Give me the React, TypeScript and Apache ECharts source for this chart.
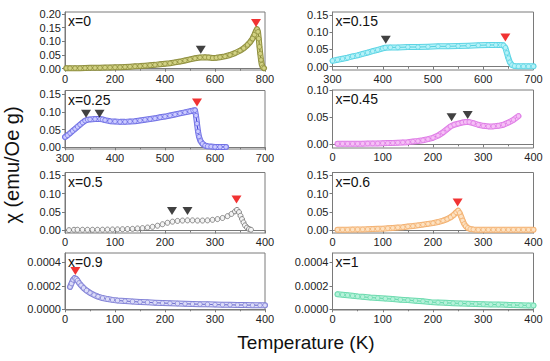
import React, { useEffect, useRef } from "react";
import * as echarts from "echarts";

// ---------- DATA ----------
const panelLabels = ["x=0", "x=0.15", "x=0.25", "x=0.45", "x=0.5", "x=0.6", "x=0.9", "x=1"];

const xTicks = {
  p0: { min: 0, max: 800, step: 200 },
  p1: { min: 300, max: 700, step: 100 },
  p2: { min: 300, max: 700, step: 100 },
  p3: { min: 0, max: 400, step: 100 },
  p4: { min: 0, max: 400, step: 100 },
  p5: { min: 0, max: 400, step: 100 },
  p6: { min: 0, max: 400, step: 100 },
  p7: { min: 0, max: 400, step: 100 },
};

const yTicksA = [0, 0.05, 0.1, 0.15, 0.2];
const yTicksB = [0, 0.05, 0.1, 0.15];
const yTicksC = [0, 0.05, 0.1];
const yTicksD = [0, 0.0002, 0.0004];

const chiX0: [number, number][] = [
  [5, 0.002], [20, 0.002], [40, 0.002], [60, 0.002], [80, 0.0025], [100, 0.003], [120, 0.003],
  [140, 0.0035], [160, 0.004], [180, 0.0045], [200, 0.005], [220, 0.0055], [240, 0.0065],
  [260, 0.0075], [280, 0.0085], [300, 0.0095], [320, 0.011], [340, 0.0125], [360, 0.014],
  [380, 0.016], [400, 0.018], [420, 0.02], [440, 0.023], [460, 0.026], [480, 0.03], [500, 0.034],
  [520, 0.038], [540, 0.041], [560, 0.042], [575, 0.041], [590, 0.039], [605, 0.04], [620, 0.042],
  [640, 0.045], [660, 0.05], [680, 0.057], [700, 0.066], [715, 0.075], [730, 0.087], [740, 0.097],
  [750, 0.11], [758, 0.125], [764, 0.138], [768, 0.145], [772, 0.135], [775, 0.11], [778, 0.08],
  [781, 0.055], [784, 0.032], [787, 0.015], [791, 0.005], [796, 0.002],
];

const chiX015: [number, number][] = [
  [300, 0.017], [310, 0.02], [320, 0.023], [330, 0.026], [340, 0.03], [350, 0.033], [360, 0.037],
  [370, 0.041], [380, 0.045], [390, 0.049], [400, 0.053], [405, 0.055], [415, 0.056], [430, 0.056],
  [450, 0.057], [470, 0.057], [490, 0.058], [510, 0.059], [530, 0.059], [550, 0.06], [570, 0.061],
  [590, 0.062], [610, 0.063], [625, 0.063], [635, 0.063], [640, 0.062], [644, 0.055], [647, 0.04],
  [650, 0.025], [653, 0.013], [657, 0.005], [662, 0.002], [670, 0.001], [680, 0.001], [690, 0.001],
  [700, 0.001],
];

const chiX025: [number, number][] = [
  [300, 0.029], [305, 0.034], [310, 0.04], [315, 0.046], [320, 0.052], [325, 0.058], [330, 0.064],
  [335, 0.07], [340, 0.075], [345, 0.078], [350, 0.079], [360, 0.08], [370, 0.08], [375, 0.079],
  [380, 0.077], [390, 0.074], [400, 0.073], [410, 0.072], [420, 0.072], [430, 0.073], [440, 0.074],
  [450, 0.076], [460, 0.078], [470, 0.08], [480, 0.082], [490, 0.085], [500, 0.087], [510, 0.09],
  [520, 0.093], [530, 0.096], [540, 0.099], [550, 0.102], [556, 0.104], [560, 0.105], [562, 0.09],
  [564, 0.067], [566, 0.045], [568, 0.03], [571, 0.018], [575, 0.01], [580, 0.005], [585, 0.003],
  [592, 0.002], [600, 0.001], [610, 0.001], [622, 0.001],
];

const chiX045: [number, number][] = [
  [10, 0.001], [20, 0.001], [30, 0.001], [40, 0.001], [50, 0.001], [60, 0.0012], [70, 0.0013],
  [80, 0.0015], [90, 0.0017], [100, 0.002], [110, 0.0022], [120, 0.0025], [130, 0.003],
  [140, 0.0035], [150, 0.004], [160, 0.005], [170, 0.006], [180, 0.0075], [190, 0.0095],
  [200, 0.012], [210, 0.016], [220, 0.022], [228, 0.028], [235, 0.033], [242, 0.036], [250, 0.038],
  [258, 0.04], [265, 0.041], [272, 0.041], [280, 0.039], [290, 0.036], [300, 0.034], [310, 0.033],
  [320, 0.033], [330, 0.034], [340, 0.036], [350, 0.04], [360, 0.045], [370, 0.052],
];

const chiX05: [number, number][] = [
  [8, 0.001], [18, 0.002], [25, 0.002], [35, 0.002], [45, 0.002], [55, 0.002], [65, 0.002],
  [75, 0.0022], [85, 0.0025], [95, 0.0028], [105, 0.003], [115, 0.0035], [125, 0.004],
  [135, 0.0045], [145, 0.0055], [155, 0.0065], [165, 0.008], [175, 0.01], [185, 0.013],
  [195, 0.017], [205, 0.021], [215, 0.024], [225, 0.026], [235, 0.027], [245, 0.0275],
  [255, 0.0275], [265, 0.027], [275, 0.027], [285, 0.0275], [295, 0.029], [305, 0.031],
  [315, 0.034], [325, 0.039], [333, 0.045], [340, 0.052], [344, 0.056], [348, 0.05], [351, 0.04],
  [354, 0.031], [357, 0.022], [360, 0.014], [364, 0.008], [368, 0.004], [372, 0.002],
];

const chiX06: [number, number][] = [
  [10, 0.002], [20, 0.002], [30, 0.002], [40, 0.0025], [50, 0.003], [60, 0.003], [70, 0.0035],
  [80, 0.004], [90, 0.0045], [100, 0.005], [110, 0.006], [120, 0.007], [130, 0.008], [140, 0.009],
  [150, 0.011], [160, 0.012], [170, 0.014], [180, 0.016], [190, 0.018], [200, 0.02], [210, 0.023],
  [220, 0.027], [228, 0.031], [235, 0.036], [241, 0.042], [246, 0.049], [250, 0.054], [253, 0.048],
  [256, 0.038], [259, 0.027], [262, 0.018], [265, 0.012], [269, 0.007], [274, 0.004], [280, 0.003],
  [290, 0.002], [300, 0.002], [310, 0.002], [320, 0.002], [330, 0.002], [340, 0.002], [350, 0.002],
  [360, 0.002], [370, 0.002], [380, 0.002], [390, 0.002], [400, 0.002],
];

const chiX09: [number, number][] = [
  [10, 0.00019], [13, 0.00022], [16, 0.00025], [19, 0.000265], [22, 0.00026], [25, 0.000245],
  [28, 0.000225], [32, 0.000205], [37, 0.000182], [43, 0.00016], [50, 0.00014], [58, 0.000122],
  [66, 0.000108], [75, 0.000096], [85, 0.000087], [95, 0.00008], [105, 0.000075], [120, 0.00007],
  [135, 0.000066], [150, 0.000062], [165, 0.000059], [180, 0.000056], [195, 0.000053],
  [210, 0.000051], [225, 0.000049], [240, 0.000047], [255, 0.000045], [270, 0.000043],
  [285, 0.000042], [300, 0.00004], [315, 0.000039], [330, 0.000038], [345, 0.000037],
  [360, 0.000036], [375, 0.000035], [390, 0.000034], [400, 0.000034],
];

const chiX1: [number, number][] = [
  [10, 0.000128], [20, 0.000124], [30, 0.00012], [40, 0.000115], [50, 0.00011], [60, 0.000106],
  [75, 0.0001], [90, 0.000096], [105, 0.000091], [120, 0.000087], [135, 0.000082], [150, 0.000078],
  [165, 0.000073], [180, 0.000068], [195, 0.000061], [210, 0.000058], [225, 0.000055],
  [240, 0.000052], [255, 0.00005], [270, 0.000048], [285, 0.000045], [300, 0.000043],
  [315, 0.000041], [330, 0.00004], [345, 0.000038], [360, 0.000036], [375, 0.000034],
  [390, 0.000033], [400, 0.000032],
];

// transition markers (black = secondary, red = main)
const blackMarks: [number, number][][] = [
  [[543, 0.069]],
  [[406, 0.078]],
  [[342, 0.095], [369, 0.095]],
  [[237, 0.05], [269, 0.054]],
  [[214, 0.053], [245, 0.053]],
  [],
  [],
  [],
];
const redMarks: [number, number][][] = [
  [[764, 0.167]],
  [[644, 0.085]],
  [[564, 0.127]],
  [],
  [[343, 0.084]],
  [[249, 0.076]],
  [[20.7, 0.000326]],
  [],
];

// ---------- LAYOUT / STYLE ----------
const FONT = '"Liberation Sans", Arial, Helvetica, sans-serif';
const COLS = [
  { left: 65, width: 200 },
  { left: 332.5, width: 201 },
];
const ROWS = [
  [{ top: 12, bottom: 70 }, { top: 12, bottom: 70 }],
  [{ top: 90.5, bottom: 149 }, { top: 90, bottom: 148 }],
  [{ top: 172.5, bottom: 233 }, { top: 172.5, bottom: 233 }],
  [{ top: 253, bottom: 310 }, { top: 253, bottom: 310 }],
];
const yExtents: [number, number][] = [
  [-0.0048, 0.2073],
  [-0.0096, 0.1587],
  [-0.0048, 0.1608],
  [-0.0068, 0.1],
  [-0.0068, 0.1576],
  [-0.0068, 0.1576],
  [-0.000006, 0.000479],
  [-0.000006, 0.000479],
];
const styles = [
  { fill: "#d2d284", edge: "#8e8e3e", line: "#6b6b20", band: true },
  { fill: "#b6f2f8", edge: "#5cd4e4", line: "#40c8d8", band: true },
  { fill: "#ccccff", edge: "#7070e4", line: "#1a1acc", band: true },
  { fill: "#f6c0f6", edge: "#de7ce6", line: "#d050d8", band: true },
  { fill: "#f4f4f4", edge: "#707070", line: "#505050", band: false },
  { fill: "#fde2c2", edge: "#f2b070", line: "#f0a050", band: true },
  { fill: "#dcdcf8", edge: "#8080d6", line: "#5050c0", band: true },
  { fill: "#b6f2da", edge: "#6cdaae", line: "#50d0a0", band: true },
];

const seriesData = [chiX0, chiX015, chiX025, chiX045, chiX05, chiX06, chiX09, chiX1];
const xRanges = [xTicks.p0, xTicks.p1, xTicks.p2, xTicks.p3, xTicks.p4, xTicks.p5, xTicks.p6, xTicks.p7];
const yTickSets = [yTicksA, yTicksB, yTicksB, yTicksC, yTicksB, yTicksB, yTicksD, yTicksD];

export default function App() {
  const ref = useRef<HTMLDivElement>(null);
  useEffect(() => {
    document.body.style.margin = "0";
    if (!ref.current) return;
    const chart = echarts.init(ref.current, undefined, { renderer: "svg" });
    const axisColor = "#7a7a7a";
    const grids: any[] = [];
    const xAxes: any[] = [];
    const yAxes: any[] = [];
    const series: any[] = [];
    const graphics: any[] = [];
    for (let i = 0; i < 8; i++) {
      const col = COLS[i % 2];
      const row = ROWS[Math.floor(i / 2)][i % 2];
      grids.push({
        left: col.left,
        width: col.width,
        top: row.top,
        height: row.bottom - row.top,
        show: true,
        borderColor: axisColor,
        borderWidth: 1,
        backgroundColor: "transparent",
        containLabel: false,
      });
      const xr = xRanges[i];
      xAxes.push({
        type: "value",
        gridIndex: i,
        min: xr.min,
        max: xr.max,
        interval: xr.step,
        axisLine: { show: true, lineStyle: { color: axisColor, width: 1 } },
        axisTick: { show: true, length: 3, lineStyle: { color: axisColor } },
        minorTick: { show: true, splitNumber: 2, length: 2, lineStyle: { color: axisColor } },
        axisLabel: { fontSize: 11, color: "#222", margin: 3, fontFamily: FONT },
        splitLine: { show: false },
      });
      const yt = yTickSets[i];
      const dec = i >= 6 ? 4 : 2;
      yAxes.push({
        type: "value",
        gridIndex: i,
        min: yExtents[i][0],
        max: yExtents[i][1],
        axisLine: { show: true, lineStyle: { color: axisColor, width: 1 } },
        axisTick: { show: true, length: 3, customValues: yt, lineStyle: { color: axisColor } },
        axisLabel: {
          fontSize: 11,
          color: "#222",
          margin: 4,
          fontFamily: FONT,
          customValues: yt,
          formatter: (v: number) => v.toFixed(dec),
        },
        splitLine: { show: false },
      });
      const st = styles[i];
      if (st.band) {
        series.push({
          type: "line",
          xAxisIndex: i,
          yAxisIndex: i,
          data: seriesData[i],
          showSymbol: false,
          lineStyle: { color: st.edge, width: 6, cap: "round", join: "round" },
          emphasis: { disabled: true },
          silent: true,
          z: 1,
        });
        series.push({
          type: "line",
          xAxisIndex: i,
          yAxisIndex: i,
          data: seriesData[i],
          showSymbol: false,
          lineStyle: { color: st.fill, width: 4, cap: "round", join: "round" },
          emphasis: { disabled: true },
          silent: true,
          z: 1.5,
        });
      }
      series.push({
        type: "line",
        xAxisIndex: i,
        yAxisIndex: i,
        data: seriesData[i],
        symbol: "circle",
        symbolSize: st.band ? 4.5 : 5,
        showSymbol: true,
        showAllSymbol: true,
        lineStyle: { color: st.line, width: st.band ? 0.8 : 1 },
        itemStyle: { color: st.fill, borderColor: st.edge, borderWidth: 0.8 },
        emphasis: { disabled: true },
        z: 2,
      });
      if (blackMarks[i].length) {
        series.push({
          type: "scatter",
          xAxisIndex: i,
          yAxisIndex: i,
          data: blackMarks[i],
          symbol: "triangle",
          symbolRotate: 180,
          symbolSize: [10, 8],
          itemStyle: { color: "#111" },
          z: 3,
        });
      }
      if (redMarks[i].length) {
        series.push({
          type: "scatter",
          xAxisIndex: i,
          yAxisIndex: i,
          data: redMarks[i],
          symbol: "triangle",
          symbolRotate: 180,
          symbolSize: [10, 8],
          itemStyle: { color: "#ee0000" },
          z: 3,
        });
      }
      graphics.push({
        type: "text",
        left: col.left + 3,
        top: row.top + 2,
        style: { text: panelLabels[i], fontSize: 14, fontFamily: FONT, fill: "#111" },
        z: 10,
      });
    }
    graphics.push({
      type: "text",
      x: 12,
      y: 165,
      rotation: Math.PI / 2,
      style: {
        text: "χ (emu/Oe g)",
        fontSize: 20,
        fontFamily: FONT,
        fill: "#111",
        align: "center",
        verticalAlign: "middle",
      },
    });
    graphics.push({
      type: "text",
      x: 306,
      y: 342,
      style: {
        text: "Temperature (K)",
        fontSize: 19,
        fontFamily: FONT,
        fill: "#111",
        align: "center",
        verticalAlign: "middle",
      },
    });
    chart.setOption({
      animation: false,
      backgroundColor: "#ffffff",
      grid: grids,
      xAxis: xAxes,
      yAxis: yAxes,
      series,
      graphic: graphics,
    });
    return () => chart.dispose();
  }, []);
  return <div ref={ref} style={{ width: 550, height: 361 }} />;
}
